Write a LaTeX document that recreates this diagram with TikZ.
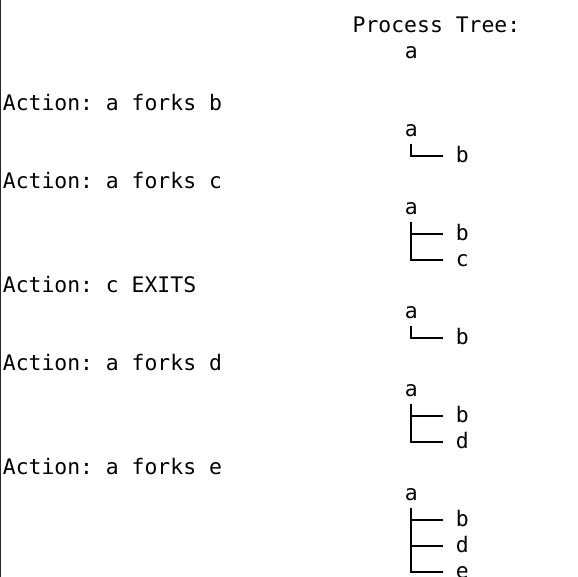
\documentclass[tikz,border=0pt]{standalone}
\usepackage{fontspec}
\setmonofont{DejaVu Sans Mono}
\newcommand{\termfont}{\ttfamily\fontsize{21.4pt}{26pt}\selectfont}
\tikzstyle{termtext} = [font=\termfont, anchor=base west, inner xsep=0pt, inner ysep=7pt, text height=13pt, text depth=0pt]
\tikzstyle{branch} = [line width=2pt, shorten >=12.9pt]
\tikzstyle{frame} = [line width=1.4pt, draw=black!85]

\begin{document}
\begin{tikzpicture}[x=1pt, y=-1pt]
\useasboundingbox (0,-1.5) rectangle (578,575.5);
\draw [frame] (0.7,-1.5) -- (0.7,575.5);

% header
\node (title) [termtext] at (352.5,31) {Process Tree:};
\node (t0a) [termtext] at (404.6,57) {a};

% a forks b
\node (act1) [termtext] at (2.7,109) {Action: a forks b};
\node (t1a) [termtext] at (404.6,135) {a};
\node (t1b) [termtext] at (455.7,161) {b};
\draw [branch] (t1a.south) |- (t1b.west);

% a forks c
\node (act2) [termtext] at (2.7,187) {Action: a forks c};
\node (t2a) [termtext] at (404.6,213) {a};
\node (t2b) [termtext] at (455.7,239) {b};
\node (t2c) [termtext] at (455.7,265) {c};
\draw [branch] (t2a.south) |- (t2b.west);
\draw [branch] (t2a.south) |- (t2c.west);

% c exits
\node (act3) [termtext] at (2.7,291) {Action: c EXITS};
\node (t3a) [termtext] at (404.6,317) {a};
\node (t3b) [termtext] at (455.7,343) {b};
\draw [branch] (t3a.south) |- (t3b.west);

% a forks d
\node (act4) [termtext] at (2.7,369) {Action: a forks d};
\node (t4a) [termtext] at (404.6,395) {a};
\node (t4b) [termtext] at (455.7,421) {b};
\node (t4d) [termtext] at (455.7,447) {d};
\draw [branch] (t4a.south) |- (t4b.west);
\draw [branch] (t4a.south) |- (t4d.west);

% a forks e
\node (act5) [termtext] at (2.7,473) {Action: a forks e};
\node (t5a) [termtext] at (404.6,499) {a};
\node (t5b) [termtext] at (455.7,525) {b};
\node (t5d) [termtext] at (455.7,551) {d};
\node (t5e) [termtext] at (455.7,577) {e};
\draw [branch] (t5a.south) |- (t5b.west);
\draw [branch] (t5a.south) |- (t5d.west);
\draw [branch] (t5a.south) |- (t5e.west);
\end{tikzpicture}
\end{document}
